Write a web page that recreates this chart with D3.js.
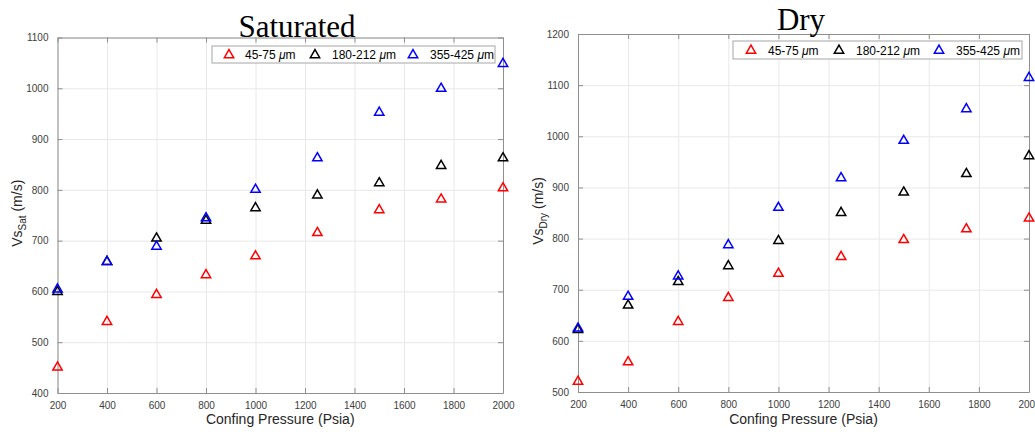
<!DOCTYPE html>
<html>
<head>
<meta charset="utf-8">
<script src="https://cdn.jsdelivr.net/npm/d3@7"></script>
<style>
  body { margin: 0; background: #ffffff; }
  svg { display: block; }
</style>
</head>
<body>
<div id="chart"></div>
<script>
const WIDTH = 1035;
const HEIGHT = 432;

// data
const pressure = [200, 400, 600, 800, 1000, 1250, 1500, 1750, 2000];
const sizeLabels = ["45-75 ", "180-212 ", "355-425 "];
const sizeColors = ["#ff0000", "#000000", "#0000ff"];

const satFine = [452, 542, 595, 634, 671, 717, 762, 783, 805];
const satMedium = [601, 660, 706, 741, 766, 791, 815, 849, 864];
const satCoarse = [606, 660, 690, 746, 802, 864, 954, 1001, 1050];

const dryFine = [522, 560, 639, 686, 733, 766, 799, 820, 841];
const dryMedium = [623, 671, 717, 748, 797, 852, 892, 928, 963];
const dryCoarse = [626, 688, 728, 789, 862, 920, 993, 1055, 1116];

const xTicks = [200, 400, 600, 800, 1000, 1200, 1400, 1600, 1800, 2000];
const satTicks = [400, 500, 600, 700, 800, 900, 1000, 1100];
const dryTicks = [500, 600, 700, 800, 900, 1000, 1100, 1200];

const AXIS_COLOR = "#8f8f8f";
const GRID_COLOR = "#e8e8e8";
const LABEL_COLOR = "#404040";
const TICK_LEN = 5;

const panels = [
  {
    title: "Saturated", sub: "Sat",
    series: [satFine, satMedium, satCoarse],
    yDomain: [400, 1100], yTicks: satTicks,
    left: 57.5, right: 503, top: 37.5, bottom: 393,
    titleX: 297, titleY: 37,
    yLabelX: 22,
    legend: { x: 212, y: 46, w: 283, h: 17, marks: [17, 103, 201], texts: [33, 120, 218] }
  },
  {
    title: "Dry", sub: "Dry",
    series: [dryFine, dryMedium, dryCoarse],
    yDomain: [500, 1200], yTicks: dryTicks,
    left: 578, right: 1029, top: 34, bottom: 392,
    titleX: 801, titleY: 30,
    yLabelX: 543,
    legend: { x: 733, y: 41, w: 289, h: 18, marks: [18, 106, 206], texts: [35, 123, 223] }
  }
];

const svg = d3.select("#chart")
  .append("svg")
  .attr("width", WIDTH)
  .attr("height", HEIGHT)
  .style("font-family", "'Liberation Sans', Arial, sans-serif");

const triangle = d3.symbol().type(d3.symbolTriangle).size(38);
const fmt = d3.format("d");

panels.forEach(p => drawPanel(p));

function drawPanel(p) {
  let xScale = d3.scaleLinear().domain([200, 2000]).range([p.left, p.right]);
  let yScale = d3.scaleLinear().domain(p.yDomain).range([p.bottom, p.top]);
  let w = p.right - p.left;
  let h = p.bottom - p.top;

  let g = svg.append("g");

  // grid lines
  g.append("g")
    .attr("transform", "translate(0," + p.bottom + ")")
    .call(d3.axisBottom(xScale).tickValues(xTicks).tickSize(-h).tickFormat(""))
    .call(s => s.select(".domain").remove())
    .selectAll("line").attr("stroke", GRID_COLOR);
  g.append("g")
    .attr("transform", "translate(" + p.left + ",0)")
    .call(d3.axisLeft(yScale).tickValues(p.yTicks).tickSize(-w).tickFormat(""))
    .call(s => s.select(".domain").remove())
    .selectAll("line").attr("stroke", GRID_COLOR);

  // box with inward ticks on all sides
  let bottomAxis = g.append("g")
    .attr("transform", "translate(0," + p.bottom + ")")
    .call(d3.axisBottom(xScale).tickValues(xTicks).tickFormat(fmt).tickSizeInner(-TICK_LEN).tickSizeOuter(0).tickPadding(9));
  let leftAxis = g.append("g")
    .attr("transform", "translate(" + p.left + ",0)")
    .call(d3.axisLeft(yScale).tickValues(p.yTicks).tickFormat(fmt).tickSizeInner(-TICK_LEN).tickSizeOuter(0).tickPadding(9));
  let topAxis = g.append("g")
    .attr("transform", "translate(0," + p.top + ")")
    .call(d3.axisTop(xScale).tickValues(xTicks).tickSizeInner(-TICK_LEN).tickSizeOuter(0).tickFormat(""));
  let rightAxis = g.append("g")
    .attr("transform", "translate(" + p.right + ",0)")
    .call(d3.axisRight(yScale).tickValues(p.yTicks).tickSizeInner(-TICK_LEN).tickSizeOuter(0).tickFormat(""));

  [bottomAxis, leftAxis, topAxis, rightAxis].forEach(a => {
    a.select(".domain").attr("stroke", AXIS_COLOR).attr("stroke-width", 1);
    a.selectAll(".tick line").attr("stroke", AXIS_COLOR);
    a.selectAll(".tick text")
      .attr("fill", LABEL_COLOR)
      .style("font-size", "10px")
      .style("font-family", "'Liberation Sans', Arial, sans-serif");
  });

  // data points
  p.series.forEach((values, i) => {
    g.append("g")
      .selectAll("path")
      .data(values.map((v, j) => ({ x: pressure[j], y: v })))
      .enter()
      .append("path")
      .attr("d", triangle)
      .attr("transform", d => "translate(" + xScale(d.x) + "," + (yScale(d.y) + 0.8) + ")")
      .attr("fill", "none")
      .attr("stroke", sizeColors[i])
      .attr("stroke-width", 1.5);
  });

  // title
  svg.append("text")
    .attr("x", p.titleX)
    .attr("y", p.titleY)
    .attr("text-anchor", "middle")
    .style("font-family", "'Liberation Serif', 'Times New Roman', serif")
    .style("font-size", "31px")
    .attr("fill", "#000")
    .text(p.title);

  // x label
  svg.append("text")
    .attr("x", (p.left + p.right) / 2)
    .attr("y", 424)
    .attr("text-anchor", "middle")
    .style("font-size", "14px")
    .attr("fill", "#262626")
    .text("Confing Pressure (Psia)");

  // y label
  let yl = svg.append("text")
    .attr("transform", "translate(" + p.yLabelX + "," + ((p.top + p.bottom) / 2 - 2) + ") rotate(-90)")
    .attr("text-anchor", "middle")
    .style("font-size", "14px")
    .attr("fill", "#262626");
  yl.append("tspan").text("Vs");
  yl.append("tspan").attr("dy", 4).style("font-size", "10px").text(p.sub);
  yl.append("tspan").attr("dy", -4).text(" (m/s)");

  drawLegend(p.legend);
}

function drawLegend(l) {
  let lg = svg.append("g").attr("transform", "translate(" + l.x + "," + l.y + ")");
  lg.append("rect")
    .attr("width", l.w)
    .attr("height", l.h)
    .attr("fill", "#ffffff")
    .attr("stroke", "#a6a6a6")
    .attr("stroke-width", 1);

  sizeLabels.forEach((label, i) => {
    lg.append("path")
      .attr("d", triangle)
      .attr("transform", "translate(" + l.marks[i] + "," + (l.h / 2 + 0.5) + ")")
      .attr("fill", "none")
      .attr("stroke", sizeColors[i])
      .attr("stroke-width", 1.5);
    let t = lg.append("text")
      .attr("x", l.texts[i])
      .attr("y", l.h / 2 + 4.5)
      .style("font-size", "12px")
      .attr("fill", "#000");
    t.append("tspan").text(label);
    t.append("tspan").style("font-style", "italic").text("\u03bc");
    t.append("tspan").text("m");
  });
}
</script>
</body>
</html>
